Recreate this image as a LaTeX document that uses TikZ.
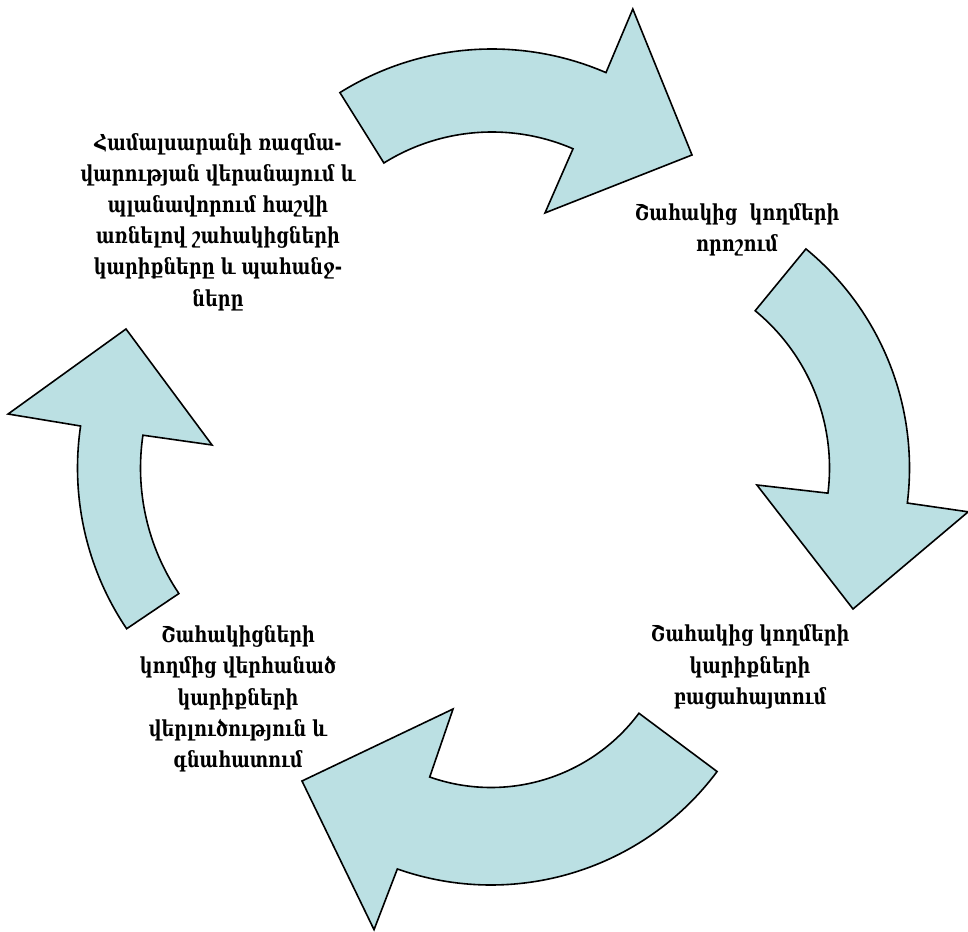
\documentclass[tikz,border=0pt]{standalone}
\usepackage{fontspec}
\newfontfamily\armfont{DejaVu Serif}[FakeStretch=0.8]
\definecolor{arrowfill}{HTML}{BBE0E3}
\tikzset{
  cyclearrow/.style={draw=black, line width=1.6pt, fill=arrowfill, line join=miter},
  steptext/.style={font=\armfont\bfseries\fontsize{22}{31.2}\selectfont, align=center, text=black, inner sep=0pt}
}
\begin{document}
\begin{tikzpicture}[x=1pt,y=1pt]
\useasboundingbox (0,0) rectangle (968,931);
% top arrow
\begin{scope}[shift={(492,595)}]
\draw[cyclearrow] (122:287) arc[start angle=122, end angle=66.6, radius=287]
  -- (66.7:356) -- (200,181) -- (66.7:134) -- (66.6:204)
  arc[start angle=66.6, end angle=122, radius=204] -- cycle;
\end{scope}
% right arrow
\begin{scope}[shift={(626,463)}]
\draw[cyclearrow] (50.6:283.5) arc[start angle=50.6, end angle=-7.1, radius=283.5]
  -- (-7.3:345) -- (227,-141) -- (-7.4:132) -- (-7.1:203.5)
  arc[start angle=-7.1, end angle=50.6, radius=203.5] -- cycle;
\end{scope}
% bottom arrow
\begin{scope}[shift={(491,328)}]
\draw[cyclearrow] (-36.7:282) arc[start angle=-36.7, end angle=-109.4, radius=282]
  -- (-109.7:347) -- (-189,-178) -- (-109.7:112.6) -- (-109.4:184.5)
  arc[start angle=-109.4, end angle=-36.7, radius=184.5] -- cycle;
\end{scope}
% left arrow
\begin{scope}[shift={(365,463)}]
\draw[cyclearrow] (214:287.5) arc[start angle=214, end angle=171.6, radius=287.5]
  -- (171.4:361) -- (-239,139) -- (171.45:154.7) -- (171.6:224.5)
  arc[start angle=171.6, end angle=214, radius=224.5] -- cycle;
\end{scope}
% texts
\node[steptext] (review) at (218,709) {Համալսարանի ռազմա-\\վարության վերանայում և\\պլանավորում հաշվի\\առնելով շահակիցների\\կարիքները և պահանջ-\\ները};
\node[steptext] (identify) at (737,701) {Շահակից\ \ կողմերի\\որոշում};
\node[steptext] (needs) at (750,264) {Շահակից կողմերի\\կարիքների\\բացահայտում};
\node[steptext] (analysis) at (238,232) {Շահակիցների\\կողմից վերհանած\\կարիքների\\վերլուծություն և\\գնահատում};
\end{tikzpicture}
\end{document}
